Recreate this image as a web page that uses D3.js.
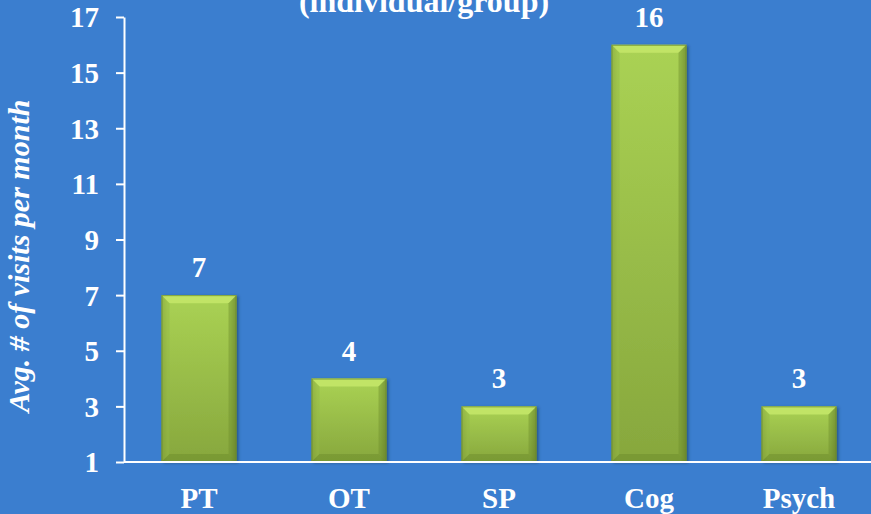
<!DOCTYPE html>
<html>
<head>
<meta charset="utf-8">
<script src="https://cdn.jsdelivr.net/npm/d3@7"></script>
<style>
  html, body { margin: 0; padding: 0; background: #3b7ecf; }
  svg { display: block; }
  text { font-family: "Liberation Serif", "Times New Roman", serif; font-weight: bold; fill: #ffffff; }
</style>
</head>
<body>
<script>
const categories = ["PT", "OT", "SP", "Cog", "Psych"];
const values = [7, 4, 3, 16, 3];
const yTicks = [1, 3, 5, 7, 9, 11, 13, 15, 17];
const titleText = "(individual/group)";
const yLabel = "Avg. # of visits per month";

const W = 871, H = 514;
const svg = d3.select("body").append("svg").attr("width", W).attr("height", H);
svg.append("rect").attr("width", W).attr("height", H).attr("fill", "#3b7ecf");

const x0 = 124, x1 = 874, yTop = 17, yBot = 462;
const x = d3.scaleBand().domain(categories).range([x0, x1]).paddingInner(0.5).paddingOuter(0.25);
const y = d3.scaleLinear().domain([1, 17]).range([yBot, yTop]);

const defs = svg.append("defs");
const g1 = defs.append("linearGradient").attr("id", "barGrad").attr("x1", 0).attr("y1", 0).attr("x2", 0).attr("y2", 1);
g1.append("stop").attr("offset", "0%").attr("stop-color", "#aad254");
g1.append("stop").attr("offset", "100%").attr("stop-color", "#87a73d");
const g2 = defs.append("linearGradient").attr("id", "sideGrad").attr("x1", 0).attr("y1", 0).attr("x2", 1).attr("y2", 0);
g2.append("stop").attr("offset", "0%").attr("stop-color", "#000").attr("stop-opacity", 0.15);
g2.append("stop").attr("offset", "8%").attr("stop-color", "#000").attr("stop-opacity", 0);
g2.append("stop").attr("offset", "92%").attr("stop-color", "#000").attr("stop-opacity", 0);
g2.append("stop").attr("offset", "100%").attr("stop-color", "#000").attr("stop-opacity", 0.22);
const filt = defs.append("filter").attr("id", "shadow").attr("x", "-20%").attr("y", "-20%").attr("width", "140%").attr("height", "140%");
filt.append("feDropShadow").attr("dx", 2).attr("dy", 1).attr("stdDeviation", 1.5).attr("flood-color", "#1a3a5a").attr("flood-opacity", 0.6);

const bars = svg.append("g");
const bw = x.bandwidth();
const bev = 8;
categories.forEach((c, i) => {
  const bx = x(c), by = y(values[i]), bh = y(1) - y(values[i]);
  const g = bars.append("g");
  g.append("rect").attr("x", bx).attr("y", by).attr("width", bw).attr("height", bh)
    .attr("fill", "url(#barGrad)").attr("filter", "url(#shadow)");
  g.append("rect").attr("x", bx).attr("y", by).attr("width", bw).attr("height", bh)
    .attr("fill", "url(#sideGrad)");
  g.append("path").attr("d", `M${bx},${by}L${bx + bw},${by}L${bx + bw - bev},${by + bev}L${bx + bev},${by + bev}Z`)
    .attr("fill", "#c6e86a").attr("opacity", 0.85);
  g.append("path").attr("d", `M${bx},${by}L${bx + bev},${by + bev}L${bx + bev},${by + bh - bev}L${bx},${by + bh}Z`)
    .attr("fill", "#94b944").attr("opacity", 0.45);
  g.append("path").attr("d", `M${bx + bw},${by}L${bx + bw - bev},${by + bev}L${bx + bw - bev},${by + bh - bev}L${bx + bw},${by + bh}Z`)
    .attr("fill", "#6e8d2c").attr("opacity", 0.45);
  g.append("path").attr("d", `M${bx},${by + bh}L${bx + bev},${by + bh - bev}L${bx + bw - bev},${by + bh - bev}L${bx + bw},${by + bh}Z`)
    .attr("fill", "#6a8a2a").attr("opacity", 0.45);
  g.append("rect").attr("x", bx + 0.5).attr("y", by + 0.5).attr("width", bw - 1).attr("height", bh - 1)
    .attr("fill", "none").attr("stroke", "#6b8a2c").attr("stroke-width", 1).attr("opacity", 0.7);
  svg.append("text").attr("x", bx + bw / 2).attr("y", by - 18).attr("text-anchor", "middle")
    .attr("font-size", 29).text(values[i]);
});

const yAxis = d3.axisLeft(y).tickValues(yTicks).tickSize(8).tickPadding(17).tickSizeOuter(0);
const ya = svg.append("g").attr("transform", `translate(${x0},0)`).call(yAxis);
ya.select(".domain").attr("stroke", "#fff").attr("stroke-width", 2);
ya.selectAll(".tick line").attr("stroke", "#fff").attr("stroke-width", 2);
ya.selectAll(".tick text").attr("font-size", 29).attr("font-family", "Liberation Serif, serif")
  .attr("font-weight", "bold").attr("fill", "#fff").attr("dy", "0.34em");

const xAxis = d3.axisBottom(x).tickSize(0).tickPadding(25).tickSizeOuter(0);
const xa = svg.append("g").attr("transform", `translate(0,${yBot})`).call(xAxis);
xa.select(".domain").attr("stroke", "#fff").attr("stroke-width", 2).attr("d", `M${x0},0H${W}`);
xa.selectAll(".tick text").attr("font-size", 29).attr("font-family", "Liberation Serif, serif")
  .attr("font-weight", "bold").attr("fill", "#fff").attr("dy", "0.71em");

svg.append("text").attr("x", 424).attr("y", 12).attr("text-anchor", "middle")
  .attr("font-size", 32).text(titleText);

svg.append("text").attr("transform", `translate(29,256) rotate(-90)`).attr("text-anchor", "middle")
  .attr("font-size", 30).attr("font-style", "italic").text(yLabel);
</script>
</body>
</html>
